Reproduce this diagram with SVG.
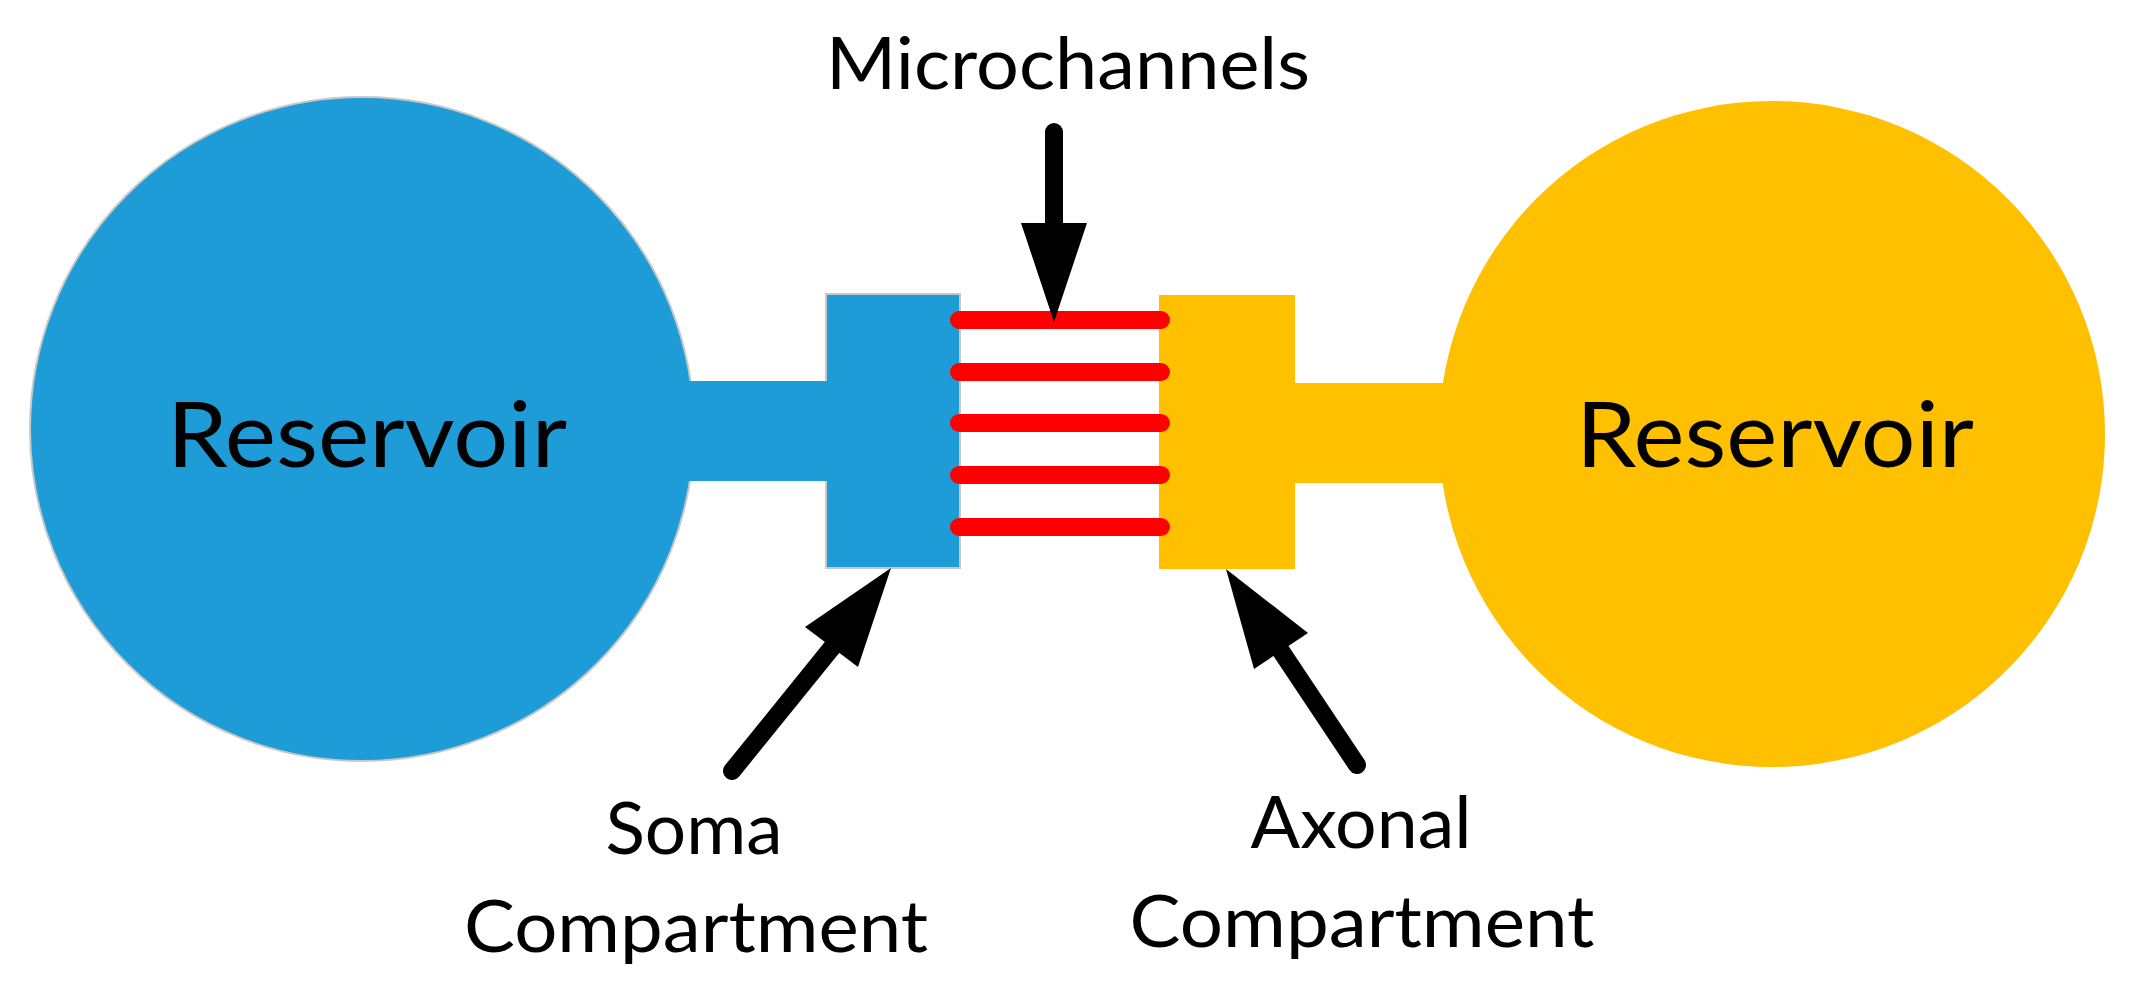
<svg xmlns="http://www.w3.org/2000/svg" width="2138" height="989" viewBox="0 0 2138 989">
<style>
.blue{fill:#1E9CD8}
.yellow{fill:#FFC000}
.edge{stroke:#C8C8C8;stroke-width:2}
.chan{stroke:#FF0000;stroke-width:18;stroke-linecap:round;fill:none}
.shaft{stroke:#000;stroke-width:18;stroke-linecap:round;fill:none}
.head{fill:#000}
.lbl{font-family:Lato,"Open Sans",sans-serif;font-size:72px;fill:#000;text-anchor:middle}
.big{font-family:Lato,"Open Sans",sans-serif;font-size:92px;fill:#000;text-anchor:middle}
</style>
<rect width="2138" height="989" fill="#fff"/>
<g id="left-reservoir">
<circle class="blue edge" cx="362" cy="429" r="332"/>
<text class="big" x="367" y="467" textLength="400" lengthAdjust="spacingAndGlyphs">Reservoir</text>
</g>
<g id="soma-compartment">
<rect class="blue edge" x="826" y="294" width="134" height="274"/>
<rect class="blue" x="680" y="381" width="160" height="100"/>
</g>
<g id="axonal-compartment">
<rect class="yellow" x="1159" y="295" width="136" height="274"/>
<rect class="yellow" x="1280" y="383" width="170" height="100"/>
</g>
<g id="right-reservoir">
<circle class="yellow" cx="1772" cy="434" r="333"/>
<text class="big" x="1775" y="467" textLength="398" lengthAdjust="spacingAndGlyphs">Reservoir</text>
</g>
<g id="microchannels">
<line class="chan" x1="959" y1="320" x2="1161" y2="320"/>
<line class="chan" x1="959" y1="372" x2="1161" y2="372"/>
<line class="chan" x1="959" y1="423" x2="1161" y2="423"/>
<line class="chan" x1="959" y1="475" x2="1161" y2="475"/>
<line class="chan" x1="959" y1="527" x2="1161" y2="527"/>
</g>
<g id="connectors">
<line class="shaft" x1="1054" y1="132" x2="1054" y2="226"/>
<polygon class="head" points="1021,223 1087,223 1054,322"/>
<line class="shaft" x1="732" y1="771" x2="834" y2="645"/>
<polygon class="head" points="891,568 858,667 805,627"/>
<line class="shaft" x1="1357" y1="765" x2="1279" y2="648"/>
<polygon class="head" points="1226,569 1308,633 1254,669"/>
</g>
<g id="labels">
<text class="lbl" x="1068" y="89" textLength="484" lengthAdjust="spacingAndGlyphs">Microchannels</text>
<text class="lbl" x="694" y="854" textLength="177" lengthAdjust="spacingAndGlyphs">Soma</text>
<text class="lbl" x="696" y="952" textLength="464" lengthAdjust="spacingAndGlyphs">Compartment</text>
<text class="lbl" x="1361" y="848" textLength="221" lengthAdjust="spacingAndGlyphs">Axonal</text>
<text class="lbl" x="1362" y="947" textLength="465" lengthAdjust="spacingAndGlyphs">Compartment</text>
</g>
</svg>
